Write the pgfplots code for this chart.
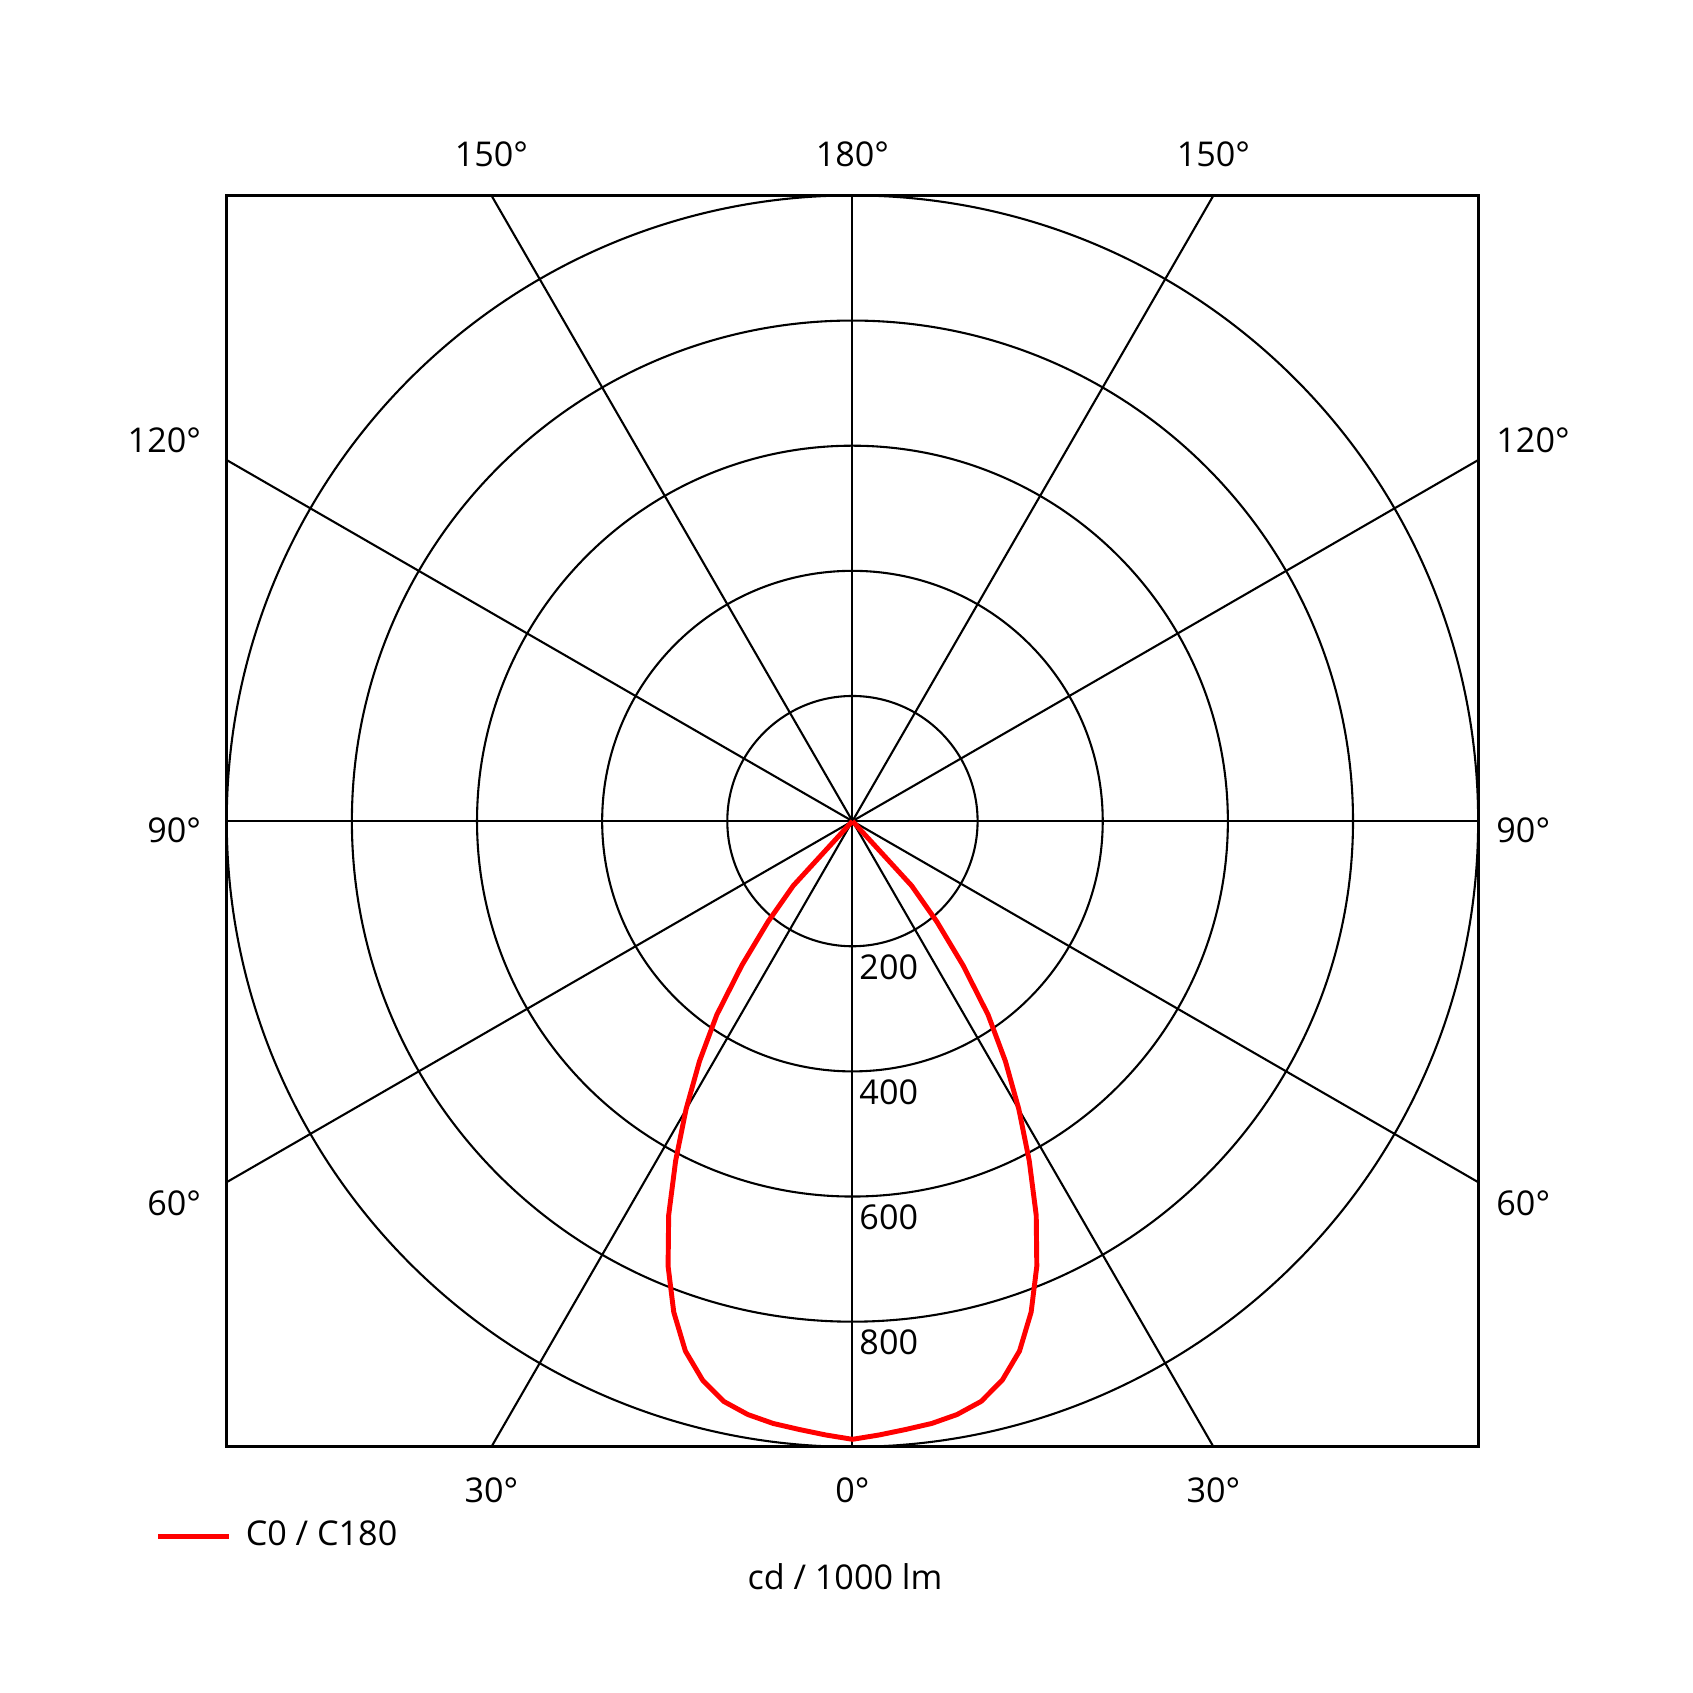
\documentclass[border=0pt]{standalone}
\usepackage{fontspec}
\setmainfont{Open Sans}
\usepackage{pgfplots}
\usepackage{pgfplotstable}
\pgfplotsset{compat=1.18}

% luminous intensity, angle from nadir (deg) vs cd/1000 lm
\pgfplotstableread{
a      I
-45    0
-42.5  140
-40    210
-37.5  290
-35    378
-32.5  455
-30    532
-27.5  612
-25    695
-22.5  770
-20    835
-17.5  888
-15    925
-12.5  950
-10    963
-7.5   971
-5     976
-2.5   982
0      988
2.5    982
5      976
7.5    971
10     963
12.5   950
15     925
17.5   888
20     835
22.5   770
25     695
27.5   612
30     532
32.5   455
35     378
37.5   290
40     210
42.5   140
45     0
}\cZero

\begin{document}
\begin{tikzpicture}[font=\fontsize{9}{11}\selectfont]
\begin{axis}[
    scale only axis,
    width=11.59cm, height=11.59cm,
    xmin=-1000, xmax=1000,
    ymin=-1000, ymax=1000,
    xtick=\empty, ytick=\empty,
    axis line style={line width=0.85pt},
    clip=false,
    legend style={at={(axis cs:-1115,-1143)}, anchor=west, draw=none,
        fill=none, inner sep=0pt, font=\fontsize{9}{11}\selectfont},
    legend image code/.code={\draw[#1] (0cm,0cm) -- (0.66cm,0cm); \path (0.72cm,0cm);},
]
% grid circles and radial lines
\pgfplotsinvokeforeach{200,400,600,800,1000}{
    \draw[line width=0.55pt] (axis cs:0,0) circle[radius=#1];
}
\draw[line width=0.55pt] (axis cs:0,-1000) -- (axis cs:0,1000);
\draw[line width=0.55pt] (axis cs:-1000,0) -- (axis cs:1000,0);
\draw[line width=0.55pt] (axis cs:-577,-1000) -- (axis cs:577,1000);
\draw[line width=0.55pt] (axis cs:577,-1000) -- (axis cs:-577,1000);
\draw[line width=0.55pt] (axis cs:-1000,-577) -- (axis cs:1000,577);
\draw[line width=0.55pt] (axis cs:-1000,577) -- (axis cs:1000,-577);

\addplot[red, line width=1.3pt, line join=round, no marks]
    table[x expr={\thisrow{I}*sin(\thisrow{a})}, y expr={-\thisrow{I}*cos(\thisrow{a})}] {\cZero};
\addlegendentry{C0 / C180}

% ring values
\pgfplotsinvokeforeach{200,400,600,800}{
    \node[anchor=west, inner sep=0pt] at (axis cs:10,-#1-33) {#1};
}
% angle labels
\node at (axis cs:-577,1065) {150°};
\node at (axis cs:0,1065) {180°};
\node at (axis cs:577,1065) {150°};
\node at (axis cs:-577,-1069) {30°};
\node at (axis cs:0,-1069) {0°};
\node at (axis cs:577,-1069) {30°};
\node[anchor=east, inner sep=0pt] at (axis cs:-1040,609) {120°};
\node[anchor=east, inner sep=0pt] at (axis cs:-1040,-14) {90°};
\node[anchor=east, inner sep=0pt] at (axis cs:-1040,-610) {60°};
\node[anchor=west, inner sep=0pt] at (axis cs:1028,609) {120°};
\node[anchor=west, inner sep=0pt] at (axis cs:1028,-14) {90°};
\node[anchor=west, inner sep=0pt] at (axis cs:1028,-610) {60°};
\node at (axis cs:-12,-1207) {cd / 1000 lm};
\end{axis}
\pgfresetboundingbox
\path[use as bounding box] (-2.10cm,-2.28cm) rectangle (13.58cm,13.40cm);
\end{tikzpicture}
\end{document}
